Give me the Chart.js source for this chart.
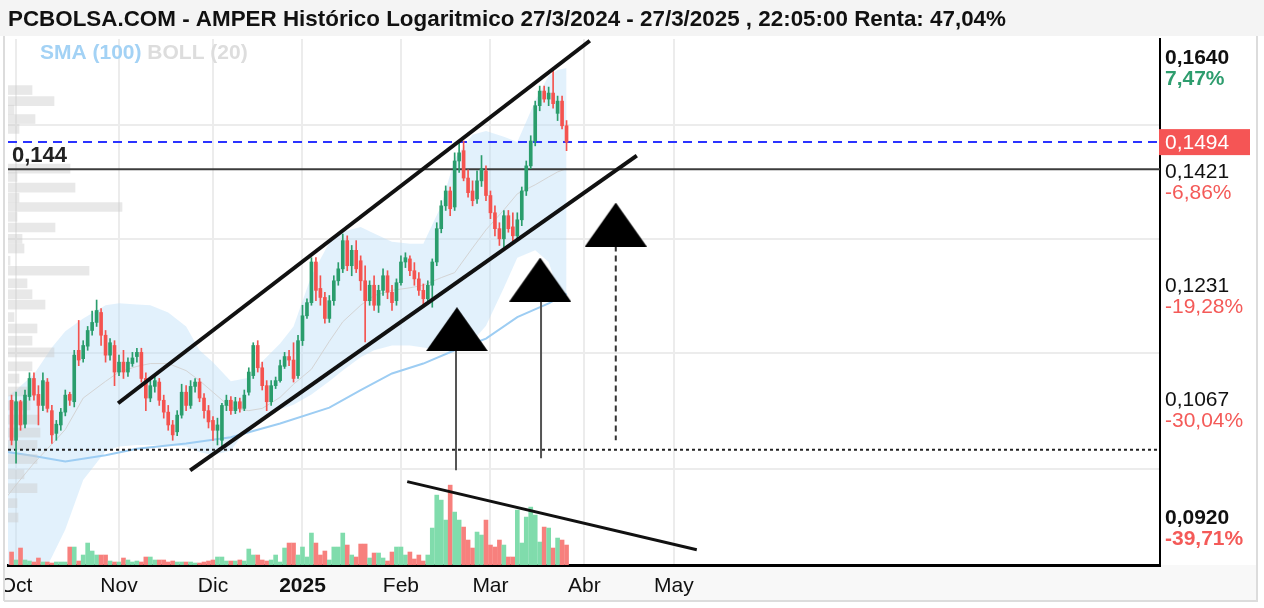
<!DOCTYPE html>
<html>
<head>
<meta charset="utf-8">
<title>AMPER - PCBOLSA</title>
<script src="https://cdn.jsdelivr.net/npm/chart.js@4.4.1/dist/chart.umd.min.js"></script>
<style>
  html, body { margin: 0; padding: 0; background: #fff; }
  #wrap { width: 1264px; height: 608px; }
</style>
</head>
<body>
<div id="wrap"><canvas id="chart" width="1264" height="608"></canvas></div>
<script>
// Daily sessions, index 0 = 1/10/2024, last one = 27/3/2025
const firstDay = -1;
const openP = [
  .1080, .1027, .1078, .1048, .1085, .1110, .1088, .1073, .1105, .1066,
  .1036, .1047, .1064, .1088, .1078, .1150, .1138, .1156, .1179, .1191,
  .1206, .1172, .1143, .1157, .1119, .1133, .1119, .1131, .1141, .1147,
  .1110, .1083, .1099, .1105, .1080, .1064, .1047, .1038, .1060, .1091,
  .1073, .1099, .1105, .1083, .1066, .1053, .1040, .1027, .1073, .1080,
  .1066, .1078, .1069, .1091, .1114, .1157, .1125, .1100, .1078, .1100,
  .1107, .1127, .1141, .1136, .1114, .1164, .1201, .1221, .1285, .1243,
  .1229, .1197, .1224, .1255, .1274, .1320, .1279, .1304, .1287, .1255,
  .1224, .1248, .1217, .1240, .1263, .1237, .1224, .1252, .1285, .1290,
  .1271, .1258, .1240, .1227, .1248, .1285, .1340, .1379, .1405, .1377,
  .1459, .1478, .1428, .1405, .1391, .1423, .1441, .1397, .1367, .1340,
  .1323, .1362, .1343, .1328, .1355, .1405, .1450, .1496, .1564, .1593,
  .1577, .1589, .1549, .1573, .1525
];
const closeP = [
  .1027, .1078, .1047, .1087, .1110, .1087, .1073, .1107, .1069, .1034,
  .1048, .1064, .1087, .1080, .1143, .1136, .1157, .1179, .1191, .1209,
  .1172, .1143, .1161, .1119, .1133, .1119, .1133, .1139, .1147, .1110,
  .1083, .1100, .1107, .1080, .1064, .1047, .1034, .1060, .1091, .1073,
  .1099, .1105, .1083, .1066, .1051, .1040, .1047, .1073, .1080, .1066,
  .1078, .1069, .1087, .1119, .1157, .1125, .1100, .1078, .1100, .1107,
  .1128, .1141, .1136, .1110, .1164, .1201, .1221, .1285, .1240, .1229,
  .1197, .1224, .1255, .1274, .1320, .1279, .1304, .1274, .1255, .1224,
  .1248, .1217, .1240, .1263, .1237, .1221, .1252, .1285, .1292, .1271,
  .1258, .1240, .1227, .1248, .1285, .1340, .1379, .1405, .1374, .1459,
  .1474, .1428, .1402, .1388, .1423, .1445, .1397, .1367, .1340, .1323,
  .1362, .1340, .1328, .1355, .1405, .1450, .1496, .1564, .1593, .1577,
  .1589, .1568, .1573, .1525, .1494
];
const highP = [
  .1087, .1091, .1080, .1094, .1118, .1118, .1100, .1118, .1110, .1073,
  .1053, .1069, .1094, .1091, .1150, .1194, .1164, .1185, .1208, .1225,
  .1212, .1179, .1167, .1164, .1143, .1150, .1139, .1147, .1153, .1153,
  .1118, .1107, .1114, .1110, .1087, .1073, .1053, .1066, .1102, .1100,
  .1107, .1110, .1110, .1089, .1073, .1058, .1056, .1076, .1087, .1085,
  .1084, .1083, .1094, .1125, .1161, .1164, .1133, .1107, .1107, .1112,
  .1136, .1147, .1150, .1161, .1172, .1217, .1227, .1292, .1292, .1263,
  .1237, .1232, .1263, .1284, .1331, .1328, .1312, .1320, .1295, .1279,
  .1255, .1263, .1248, .1274, .1271, .1248, .1258, .1295, .1300, .1295,
  .1284, .1268, .1250, .1255, .1290, .1350, .1388, .1414, .1412, .1474,
  .1496, .1496, .1443, .1423, .1441, .1469, .1450, .1405, .1379, .1350,
  .1371, .1371, .1367, .1367, .1412, .1459, .1506, .1573, .1603, .1603,
  .1601, .1640, .1583, .1583, .1535
];
const lowP = [
  .1021, .0998, .1040, .1043, .1080, .1080, .1047, .1066, .1064, .1023,
  .1027, .1040, .1059, .1073, .1071, .1128, .1133, .1150, .1172, .1185,
  .1157, .1133, .1136, .1100, .1114, .1110, .1113, .1127, .1133, .1105,
  .1066, .1078, .1091, .1073, .1056, .1040, .1027, .1033, .1056, .1066,
  .1069, .1091, .1078, .1056, .1043, .1027, .1021, .1018, .1066, .1061,
  .1062, .1064, .1066, .1087, .1110, .1119, .1094, .1066, .1073, .1096,
  .1105, .1124, .1128, .1105, .1110, .1157, .1197, .1217, .1224, .1217,
  .1190, .1191, .1217, .1248, .1268, .1271, .1263, .1268, .1240, .1162,
  .1217, .1209, .1206, .1232, .1227, .1209, .1217, .1248, .1276, .1263,
  .1248, .1232, .1217, .1221, .1214, .1279, .1333, .1371, .1362, .1371,
  .1438, .1423, .1394, .1379, .1383, .1413, .1388, .1357, .1328, .1312,
  .1309, .1334, .1320, .1323, .1345, .1397, .1445, .1487, .1554, .1571,
  .1564, .1559, .1535, .1519, .1478
];
// volume, millions of shares
const volumeM = [
  1.3, 0.5, 1.7, 0.5, 0.4, 0.3, 0.7, 0.3, 0.3, 0.2,
  0.3, 0.3, 0.3, 1.8, 1.8, 0.4, 1.0, 2.2, 1.4, 1.0,
  1.0, 1.0, 0.4, 0.3, 0.3, 0.7, 0.5, 0.3, 0.4, 0.3,
  0.8, 0.8, 0.5, 0.5, 0.5, 0.3, 0.4, 0.3, 0.3, 0.3,
  0.3, 0.2, 0.2, 0.3, 0.4, 0.5, 0.8, 0.8, 0.4, 0.4,
  0.4, 0.5, 0.4, 1.6, 1.0, 1.0, 0.5, 0.4, 0.5, 1.0,
  0.3, 1.7, 2.2, 2.2, 1.0, 1.8, 0.8, 3.2, 2.2, 1.0,
  1.4, 0.5, 1.8, 1.8, 3.2, 2.0, 1.0, 0.8, 2.1, 2.1,
  0.7, 1.2, 1.2, 0.7, 0.4, 1.3, 1.8, 1.8, 1.0, 1.3,
  0.6, 1.0, 0.4, 1.0, 3.7, 7.0, 6.5, 4.5, 8.0, 5.3,
  4.5, 3.8, 2.5, 1.7, 3.3, 3.0, 4.5, 2.0, 1.8, 2.5,
  2.0, 0.8, 0.8, 5.5, 2.2, 4.8, 5.8, 5.0, 2.3, 3.8,
  3.7, 1.7, 2.7, 2.5, 2.0
];

// Bollinger (20) and SMA (100), read at a few sessions
const bandIdx = [-2, 0, 4, 8, 11, 15, 20, 23, 27, 30, 34, 38, 41, 44, 48, 52, 55, 59, 62,
  66, 70, 73, 77, 80, 84, 88, 91, 95, 98, 102, 105, 109, 112, 116, 119, 121, 123];
const bandUpper = [.1085, .1094, .1116, .1154, .1178, .1197, .1217, .1220, .1218, .1217,
  .1206, .1185, .1150, .1133, .1106, .1111, .1134, .1160, .1185, .1263, .1317, .1335,
  .1343, .1332, .1318, .1315, .1315, .1379, .1463, .1508, .1515, .1504, .1494, .1573,
  .1624, .1636, .1640];
const bandMid = [.0957, .0971, .0998, .1022, .1041, .1083, .1106, .1119, .1127, .1131,
  .1131, .1121, .1107, .1091, .1070, .1066, .1069, .1084, .1102, .1123, .1163, .1192,
  .1217, .1232, .1240, .1244, .1248, .1260, .1268, .1308, .1338, .1372, .1400, .1416,
  .1430, .1439, .1445];
const bandLower = [.0840, .0840, .0851, .0887, .0918, .0977, .1013, .1019, .1021, .1021,
  .1021, .1019, .1012, .1008, .1014, .1045, .1057, .1068, .1074, .1088, .1106, .1121,
  .1140, .1150, .1157, .1157, .1154, .1150, .1150, .1163, .1186, .1244, .1292, .1304,
  .1285, .1242, .1224];
const smaIdx = [-2, 4, 11, 20, 27, 38, 48, 59, 70, 77, 84, 91, 98, 105, 112, 119, 123];
const smaValue = [.1012, .1007, .1000, .1008, .1016, .1023, .1031, .1049, .1070, .1094,
  .1117, .1131, .1150, .1167, .1199, .1220, .1235];

// volume by price (left side histogram)
const profilePrice = [.1595, .1573, .1556, .1538, .1519, .1445, .1430, .1411, .1393, .1377,
  .1360, .1342, .1323, .1307, .1287, .1271, .1251, .1234, .1218, .1199,
  .1182, .1164, .1147, .1127, .1110, .1092, .1073, .1054, .1037, .1021,
  .1003, .0984, .0967, .0949, .0932];
const profileVolume = [12, 23, 3, 13.5, 5.5, 31, 4.5, 33.5, 5.5, 57,
  4.5, 23.5, 7, 8, 1, 40.5, 9.5, 12, 18.5, 3,
  14.5, 12, 23, 12, 5.5, 9.5, 11, 15.5, 16, 14.5,
  14.5, 8, 14.5, 4.5, 5];

// hand drawn lines: [session, session], [price, price]
const channelTopIdx = [22.8, 128.2], channelTopPrice = [0.1076, 0.1697];
const channelLowIdx = [38.9, 138.7], channelLowPrice = [0.0989, 0.1469];
const volTrendIdx = [87.4, 152.1], volTrendPrice = [0.0975, 0.0895];
const arrowIdx = [98.3, 117.3, 134.0];
const arrowTop = [0.1150, 0.1231, 0.1312];
const arrowBottom = [0.0989, 0.1004, 0.1027];
const triangleIdx = [98.5, 117.1, 134.0];
const trianglePrice = [0.1181, 0.1257, 0.1347];

const lastPrice = 0.1494;
const resistance = 0.1444;
const support = 0.1015;

const yTicks = [0.0920, 0.1067, 0.1231, 0.1421, 0.1640];
const yTickPct = ['-39,71%', '-30,04%', '-19,28%', '-6,86%', '7,47%'];
const monthTicks = [0, 23, 44, 64, 86, 106, 127, 147];
const monthLabels = ['Oct', 'Nov', 'Dic', '2025', 'Feb', 'Mar', 'Abr', 'May'];

const FONT = "'Liberation Sans', Arial, sans-serif";
const GREEN = '#2a9d6c', RED = '#f4534f';
const VOL_GREEN = '#80dcac', VOL_RED = '#f7807d';
Chart.defaults.font.family = FONT;

const days = openP.map((_, i) => i + firstDay);
const rising = openP.map((o, i) => closeP[i] >= o);
const candleColor = rising.map(u => u ? GREEN : RED);
const pts = (xs, ys) => xs.map((x, i) => ({ x: x, y: ys[i] }));
const X_MIN = -1.8, X_MAX = 255.6;

// flat black triangle used as marker
const triMark = document.createElement('canvas');
triMark.width = 62; triMark.height = 44;
(function () {
  const c = triMark.getContext('2d');
  c.fillStyle = '#000';
  c.beginPath(); c.moveTo(31, 0); c.lineTo(62, 44); c.lineTo(0, 44); c.closePath(); c.fill();
})();

function lineSet(data, color, width, dash, order) {
  return {
    type: 'line', data: data, borderColor: color, borderWidth: width,
    borderDash: dash || [], pointRadius: 0, fill: false, order: order,
    tension: 0, xAxisID: 'x', yAxisID: 'y'
  };
}

const datasets = [
  { type: 'line', data: pts(bandIdx, bandUpper), borderWidth: 0, pointRadius: 0,
    fill: false, order: 20 },
  { type: 'line', data: pts(bandIdx, bandLower), borderWidth: 0, pointRadius: 0,
    fill: '-1', backgroundColor: 'rgba(190,225,248,0.45)', order: 19 },
  lineSet(pts(bandIdx, bandMid), '#d4d4d4', 1, null, 18),
  lineSet(pts(smaIdx, smaValue), '#9dcdf3', 2, null, 17),
  { type: 'bar', indexAxis: 'y', xAxisID: 'xp', yAxisID: 'y', grouped: false,
    data: pts(profileVolume, profilePrice),
    backgroundColor: 'rgba(205,205,205,0.45)', barThickness: 9, order: 16 },
  { type: 'bar', xAxisID: 'x', yAxisID: 'yv', grouped: false,
    data: days.map((d, i) => ({ x: d, y: volumeM[i] })),
    backgroundColor: rising.map(u => u ? VOL_GREEN : VOL_RED), barThickness: 4, order: 15 },
  lineSet([{ x: X_MIN, y: support }, { x: X_MAX, y: support }], '#222', 2, [3, 3], 14),
  lineSet([{ x: X_MIN, y: resistance }, { x: X_MAX, y: resistance }], '#3c3c3c', 2, null, 13),
  lineSet([{ x: X_MIN, y: lastPrice }, { x: X_MAX, y: lastPrice }], '#2b33ff', 2, [9, 6], 12),
  { type: 'bar', xAxisID: 'x', yAxisID: 'y', grouped: false,
    data: days.map((d, i) => ({ x: d, y: [lowP[i], highP[i]] })),
    backgroundColor: candleColor, barThickness: 1, order: 6 },
  { type: 'bar', xAxisID: 'x', yAxisID: 'y', grouped: false,
    data: days.map((d, i) => ({ x: d, y: [openP[i], closeP[i]] })),
    backgroundColor: candleColor, barThickness: 3, order: 5 },
  lineSet(pts(channelTopIdx, channelTopPrice), '#111', 4, null, 3),
  lineSet(pts(channelLowIdx, channelLowPrice), '#111', 4, null, 3),
  lineSet(pts(volTrendIdx, volTrendPrice), '#111', 3, null, 3),
  lineSet(pts([arrowIdx[0], arrowIdx[0]], [arrowTop[0], arrowBottom[0]]), '#555', 2, null, 2),
  lineSet(pts([arrowIdx[1], arrowIdx[1]], [arrowTop[1], arrowBottom[1]]), '#555', 2, null, 2),
  lineSet(pts([arrowIdx[2], arrowIdx[2]], [arrowTop[2], arrowBottom[2]]), '#333', 2, [6, 4], 2),
  { type: 'line', data: pts(triangleIdx, trianglePrice), showLine: false,
    pointStyle: triMark, pointRadius: 22, order: 1 }
];

// panel backgrounds
const panels = {
  id: 'panels',
  beforeDraw(chart) {
    const { ctx, chartArea } = chart;
    ctx.save();
    ctx.fillStyle = '#fff';
    ctx.fillRect(0, 0, chart.width, chart.height);
    ctx.fillStyle = '#f4f4f4';
    ctx.fillRect(0, 0, chart.width, 36);
    ctx.fillStyle = '#f8f8f8';
    ctx.fillRect(4, chartArea.bottom, 1253, 601 - chartArea.bottom);
    ctx.strokeStyle = '#dcdcdc';
    ctx.lineWidth = 2;
    ctx.beginPath();
    ctx.moveTo(1257, 36); ctx.lineTo(1257, 601); ctx.lineTo(4, 601);
    ctx.stroke();
    ctx.restore();
  }
};

// legend, level label, percentages and last price tag
const texts = {
  id: 'texts',
  afterDraw(chart) {
    const { ctx, chartArea } = chart;
    const y = chart.scales.y;
    ctx.save();
    // left frame edge, it also trims the first month label
    ctx.fillStyle = '#fff';
    ctx.fillRect(0, 36, 3, chart.height - 36);
    ctx.strokeStyle = '#dcdcdc';
    ctx.lineWidth = 2;
    ctx.beginPath(); ctx.moveTo(4, 36); ctx.lineTo(4, 601); ctx.stroke();

    ctx.textBaseline = 'middle';
    ctx.textAlign = 'left';
    ctx.font = 'bold 21px ' + FONT;
    ctx.fillStyle = '#a3d2f5';
    ctx.fillText('SMA (100) ', 40, 53);
    const w = ctx.measureText('SMA (100) ').width;
    ctx.fillStyle = '#dddddd';
    ctx.fillText('BOLL (20)', 40 + w, 53);

    ctx.font = 'bold 22px ' + FONT;
    ctx.fillStyle = '#222';
    ctx.fillText('0,144', chartArea.left + 4, y.getPixelForValue(resistance) - 13);

    yTicks.forEach((v, i) => {
      const bold = i === 0 || i === yTicks.length - 1;
      ctx.font = (bold ? 'bold ' : '') + '21px ' + FONT;
      ctx.fillStyle = yTickPct[i].startsWith('-') ? '#f45a58' : '#2e9d6e';
      ctx.fillText(yTickPct[i], chartArea.right + 5, y.getPixelForValue(v) + 11);
    });

    const py = y.getPixelForValue(lastPrice);
    ctx.fillStyle = '#f55555';
    ctx.fillRect(chartArea.right - 1, py - 13, 91, 26);
    ctx.fillStyle = '#fff';
    ctx.font = '21px ' + FONT;
    ctx.fillText(lastPrice.toFixed(4).replace('.', ','), chartArea.right + 5, py + 1);
    ctx.restore();
  }
};

new Chart(document.getElementById('chart'), {
  type: 'bar',
  data: { datasets: datasets },
  options: {
    responsive: false,
    animation: false,
    devicePixelRatio: 1,
    layout: { autoPadding: false, padding: { left: 8, right: 8, top: 0, bottom: 8 } },
    plugins: {
      legend: { display: false },
      tooltip: { enabled: false },
      title: {
        display: true,
        align: 'start',
        text: 'PCBOLSA.COM - AMPER Histórico Logaritmico 27/3/2024 - 27/3/2025 , 22:05:00 Renta: 47,04%',
        color: '#111',
        font: { family: FONT, size: 22.4, weight: 'bold' },
        padding: { top: 6, bottom: 6 }
      }
    },
    scales: {
      x: {
        type: 'linear', min: X_MIN, max: X_MAX, offset: false,
        grid: { color: '#ececec', lineWidth: 2, drawTicks: false, offset: false },
        border: { color: '#000', width: 3 },
        ticks: {
          autoSkip: false, maxRotation: 0, padding: 9, color: '#111',
          font: ctx => ({ family: FONT, size: 21,
            weight: ctx.tick && ctx.tick.value === 64 ? 'bold' : 'normal' }),
          callback: v => monthLabels[monthTicks.indexOf(v)] || ''
        },
        afterBuildTicks: s => { s.ticks = monthTicks.map(v => ({ value: v })); },
        afterFit: s => { s.height = 35; s.paddingLeft = 0; s.paddingRight = 0; }
      },
      y: {
        type: 'logarithmic', position: 'right', min: 0.0878, max: 0.1701,
        grid: { color: '#ececec', lineWidth: 2, drawTicks: false },
        border: { color: '#000', width: 2 },
        ticks: {
          padding: 5, labelOffset: -10, color: '#111',
          font: ctx => ({ family: FONT, size: 21,
            weight: ctx.index === 0 || ctx.index === yTicks.length - 1 ? 'bold' : 'normal' }),
          callback: v => v.toFixed(4).replace('.', ',')
        },
        afterBuildTicks: s => { s.ticks = yTicks.map(v => ({ value: v })); },
        afterFit: s => { s.width = 96; s.paddingTop = 0; s.paddingBottom = 0; }
      },
      yv: { type: 'linear', display: false, min: 0, max: 52.7 },
      xp: { type: 'linear', display: false, min: 0, max: 576, offset: false,
        grid: { offset: false } }
    }
  },
  plugins: [panels, texts]
});
</script>
</body>
</html>
